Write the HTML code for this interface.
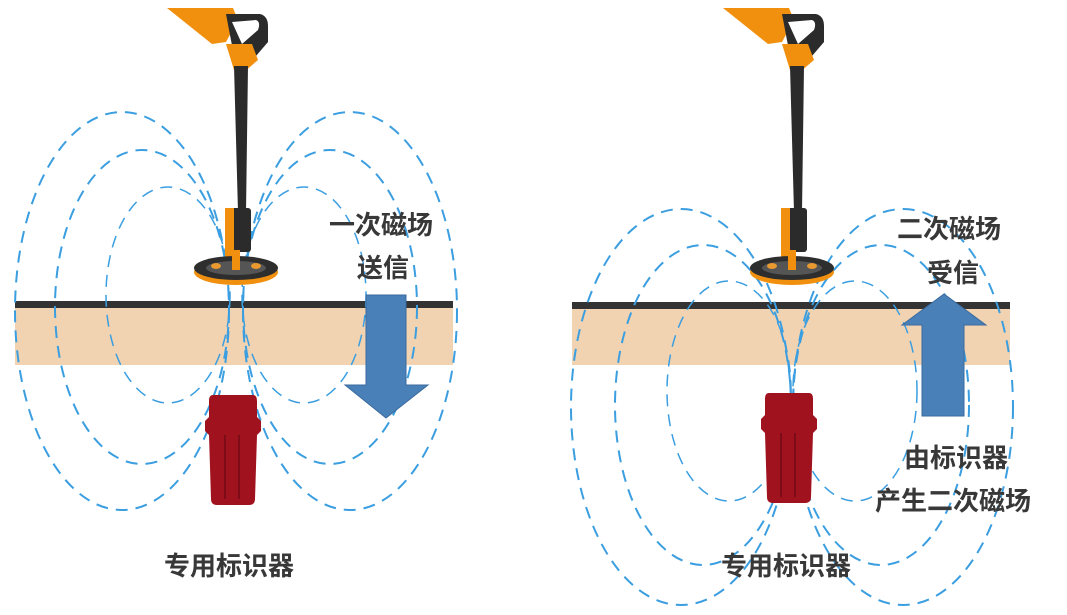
<!DOCTYPE html>
<html><head><meta charset="utf-8"><style>
html,body{margin:0;padding:0;background:#fff;}
svg{display:block;}
text{font-family:"Liberation Sans","Noto Sans CJK SC",sans-serif;font-size:26px;font-weight:bold;fill:#383838;}
</style></head><body>
<svg width="1067" height="615" viewBox="0 0 1067 615" xmlns="http://www.w3.org/2000/svg">
<defs>
<g id="loc">
  <!-- head -->
  <polygon points="-69,8 -3,8 2,20 -10,42 -24,44" fill="#f0900e"/>
  <path d="M-10,14 L24,14 Q32,16 32,26 L32,42 L20,56 L-2,56 Z" fill="#2b2b2b"/>
  <path d="M-4,22 L20,20 Q25,22 22,30 L6,44 Z" fill="#fff"/>
  <polygon points="-10,44 16,44 22,60 8,72 -2,70" fill="#f0900e"/>
  <polygon points="-2,66 12,66 10,212 2,212" fill="#2b2b2b"/>
  <rect x="-11" y="208" width="26" height="44" rx="3" fill="#2b2b2b"/>
  <rect x="-11" y="208" width="9" height="50" fill="#f0900e"/>
  <ellipse cx="0" cy="272" rx="42" ry="13" fill="#f0900e"/>
  <ellipse cx="0" cy="268" rx="42" ry="12" fill="#2e2e2e"/>
  <ellipse cx="0" cy="268" rx="30" ry="7" fill="#555"/>
  <ellipse cx="-20" cy="266" rx="5" ry="3" fill="#e89a30"/>
  <ellipse cx="20" cy="266" rx="5" ry="3" fill="#e89a30"/>
  <rect x="-4" y="250" width="8" height="20" fill="#f0900e"/>
</g>
<g id="marker">
  <path d="M-20,0 L20,0 Q24,0 24,6 L24,22 L28,26 L28,36 L24,40 L22,104 Q22,110 16,110 L-16,110 Q-22,110 -22,104 L-24,40 L-28,36 L-28,26 L-24,22 L-24,6 Q-24,0 -20,0 Z" fill="#a0121e"/>
  <line x1="-8" y1="40" x2="-8" y2="104" stroke="#7e0c16" stroke-width="2"/>
  <line x1="6" y1="40" x2="6" y2="104" stroke="#7e0c16" stroke-width="2"/>
</g>
</defs>

<rect x="15" y="307" width="438" height="58" fill="#f2d3b1"/>
<rect x="15" y="301" width="438" height="7" fill="#333"/>
<g fill="none" stroke="#3a9ee0" stroke-width="2" stroke-dasharray="12,8">
  <ellipse cx="122" cy="311" rx="107" ry="199"/>
  <ellipse cx="142" cy="307" rx="87" ry="157"/>
  <ellipse cx="168" cy="295" rx="62" ry="108" stroke-width="1.5"/>
  <ellipse cx="350" cy="311" rx="107" ry="199"/>
  <ellipse cx="330" cy="307" rx="87" ry="157"/>
  <ellipse cx="304" cy="295" rx="62" ry="108" stroke-width="1.5"/>
</g>
<use href="#loc" transform="translate(236,0)"/>
<use href="#marker" transform="translate(233,395)"/>
<polygon points="366,295 406,295 406,385 428,385 386,418 345,385 366,385" fill="#4a80b8" stroke="#3a6a9e" stroke-width="1"/>
<text x="329" y="234">一次磁场</text>
<text x="357" y="277">送信</text>
<text x="164" y="575">专用标识器</text>

<rect x="572" y="309" width="438" height="56" fill="#f2d3b1"/>
<rect x="572" y="302" width="438" height="7" fill="#333"/>
<g fill="none" stroke="#3a9ee0" stroke-width="2" stroke-dasharray="12,8">
  <ellipse cx="681" cy="407" rx="110" ry="198"/>
  <ellipse cx="703" cy="405" rx="88" ry="160"/>
  <ellipse cx="729" cy="391" rx="62" ry="110" stroke-width="1.5"/>
  <ellipse cx="903" cy="407" rx="110" ry="198"/>
  <ellipse cx="881" cy="405" rx="88" ry="160"/>
  <ellipse cx="855" cy="391" rx="62" ry="110" stroke-width="1.5"/>
</g>
<use href="#loc" transform="translate(792,0)"/>
<use href="#marker" transform="translate(789,393)"/>
<polygon points="922,416 964,416 964,325 986,325 944,294 902,325 922,325" fill="#4a80b8" stroke="#3a6a9e" stroke-width="1"/>
<text x="897" y="238">二次磁场</text>
<text x="927" y="282">受信</text>
<text x="904" y="467">由标识器</text>
<text x="875" y="510">产生二次磁场</text>
<text x="721" y="575">专用标识器</text>
</svg>
</body></html>
